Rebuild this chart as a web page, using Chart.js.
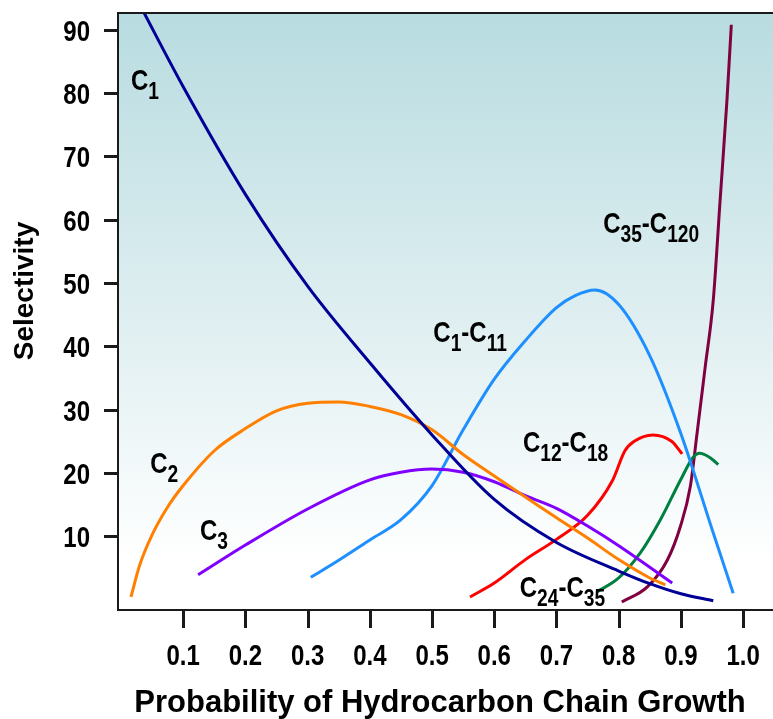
<!DOCTYPE html>
<html>
<head>
<meta charset="utf-8">
<script src="https://cdn.jsdelivr.net/npm/chart.js@4.4.0/dist/chart.umd.min.js"></script>
<style>
  html, body { margin: 0; padding: 0; background: #fff; }
  canvas { display: block; }
</style>
</head>
<body>
<canvas id="myChart" width="773" height="719"></canvas>
<script>
// tick labels
const xTicks = [0.1, 0.2, 0.3, 0.4, 0.5, 0.6, 0.7, 0.8, 0.9, 1.0];
const yTicks = [10, 20, 30, 40, 50, 60, 70, 80, 90];

// curves (x = chain growth probability, y = selectivity %)
const c1X = [0.03, 0.1, 0.2, 0.3, 0.4, 0.5, 0.6, 0.7, 0.8, 0.85, 0.9, 0.952];
const c1Y = [94, 81, 64, 49.5, 37.4, 26, 15.8, 9, 4.5, 2.5, 0.9, -0.2];

const c2X = [0.016, 0.03, 0.05, 0.075, 0.1, 0.15, 0.2, 0.25, 0.3, 0.35, 0.4, 0.45, 0.5, 0.55, 0.6, 0.65, 0.7, 0.75, 0.8, 0.85, 0.875];
const c2Y = [0.4, 5.4, 10.2, 14.6, 18, 23.5, 27, 29.8, 31, 31.2, 30.5, 29.2, 26.8, 22.9, 19.5, 16.2, 12.9, 9.7, 6.3, 3.4, 2.3];

const c3X = [0.124, 0.2, 0.3, 0.4, 0.45, 0.5, 0.55, 0.6, 0.65, 0.7, 0.75, 0.8, 0.886];
const c3Y = [3.9, 8.6, 14.3, 18.9, 20.1, 20.6, 20.1, 18.6, 16.4, 14.4, 11.6, 8.5, 2.6];

const c1c11X = [0.305, 0.35, 0.4, 0.45, 0.5, 0.55, 0.6, 0.65, 0.7, 0.73, 0.762, 0.8, 0.85, 0.9, 0.95, 0.984];
const c1c11Y = [3.5, 6.2, 9.4, 12.6, 18, 26.8, 34.8, 40.9, 46.1, 48, 48.9, 46.6, 38.5, 26.2, 11.1, 1.0];

const c12c18X = [0.561, 0.6, 0.65, 0.7, 0.75, 0.79, 0.81, 0.825, 0.855, 0.885, 0.902];
const c12c18Y = [0.4, 2.6, 6.3, 9.5, 13.3, 18.8, 23.5, 25, 26, 25, 23];

const c24c35X = [0.765, 0.8, 0.835, 0.867, 0.9, 0.92, 0.93, 0.947, 0.96];
const c24c35Y = [1.2, 3.4, 7.4, 12.6, 19, 22.5, 23.1, 22.4, 21.3];

const c35c120X = [0.805, 0.846, 0.878, 0.899, 0.915, 0.926, 0.939, 0.952, 0.963, 0.974, 0.981];
const c35c120Y = [-0.4, 2, 6.2, 11.5, 17.8, 26.3, 36.7, 47.3, 63.1, 78.9, 90.8];

const WIDE = '"Liberation Sans", Arial, sans-serif';
const SQUEEZE = 0.8; // fake a narrow bold face, none is installed

// curve names, drawn in the plot as C + subscript
const curveLabels = [
  { x: 0.016, y: 80.5, parts: [["C", "1"]] },
  { x: 0.047, y: 20.0, parts: [["C", "2"]] },
  { x: 0.127, y: 9.4, parts: [["C", "3"]] },
  { x: 0.502, y: 40.7, parts: [["C", "1"], ["-C", "11"]] },
  { x: 0.646, y: 23.3, parts: [["C", "12"], ["-C", "18"]] },
  { x: 0.641, y: 0.4, parts: [["C", "24"], ["-C", "35"]] },
  { x: 0.775, y: 57.9, parts: [["C", "35"], ["-C", "120"]] }
];

function pts(xs, ys) {
  return xs.map((x, i) => ({ x: x, y: ys[i] }));
}

function line(data, color) {
  return {
    data: data,
    borderColor: color,
    borderWidth: 3,
    pointRadius: 0,
    fill: false,
    cubicInterpolationMode: "monotone",
    clip: 0
  };
}

function narrowText(ctx, text, x, y, align) {
  ctx.save();
  ctx.translate(x, y);
  ctx.scale(SQUEEZE, 1);
  ctx.textAlign = align;
  ctx.fillText(text, 0, 0);
  ctx.restore();
}

const backdrop = {
  id: "backdrop",
  beforeDraw(chart) {
    const { ctx, chartArea: a } = chart;
    const g = ctx.createLinearGradient(0, a.top, 0, a.bottom);
    g.addColorStop(0, "#b8dce0");
    g.addColorStop(0.55, "#e2f0f2");
    g.addColorStop(0.92, "#ffffff");
    ctx.save();
    ctx.fillStyle = g;
    ctx.fillRect(a.left, a.top, a.right - a.left, a.bottom - a.top);
    ctx.restore();
  },
  afterDraw(chart) {
    const { ctx, chartArea: a, scales } = chart;
    ctx.save();
    ctx.fillStyle = "#1a1a1a";
    // top edge of the frame
    ctx.fillRect(a.left - 1, a.top - 1, a.right - a.left + 1, 2);
    // tick marks outside the frame
    scales.x.ticks.forEach(t => {
      const px = Math.round(scales.x.getPixelForValue(t.value));
      ctx.fillRect(px - 1, a.bottom, 3, 18);
    });
    scales.y.ticks.forEach(t => {
      const py = Math.round(scales.y.getPixelForValue(t.value));
      ctx.fillRect(a.left - 14, py - 1, 14, 3);
    });

    // tick labels, placed by the scales
    ctx.fillStyle = "#000";
    ctx.textBaseline = "alphabetic";
    ctx.font = "bold 30px " + WIDE;
    scales.x.ticks.forEach(t => {
      narrowText(ctx, t.label, scales.x.getPixelForValue(t.value), a.bottom + 55, "center");
    });
    scales.y.ticks.forEach(t => {
      narrowText(ctx, t.label, a.left - 28, scales.y.getPixelForValue(t.value) + 11, "right");
    });

    // axis titles
    ctx.font = "bold 31px " + WIDE;
    ctx.textAlign = "center";
    ctx.fillText("Probability of Hydrocarbon Chain Growth", 440, 712);
    ctx.translate(33, 291);
    ctx.rotate(-Math.PI / 2);
    ctx.font = "bold 28px " + WIDE;
    ctx.fillText("Selectivity", 0, 0);
    ctx.restore();
  }
};

const curveNames = {
  id: "curveNames",
  afterDatasetsDraw(chart) {
    const { ctx, scales } = chart;
    ctx.save();
    ctx.fillStyle = "#000";
    ctx.textBaseline = "alphabetic";
    curveLabels.forEach(l => {
      let px = scales.x.getPixelForValue(l.x);
      const py = scales.y.getPixelForValue(l.y);
      l.parts.forEach(([main, sub]) => {
        ctx.font = "bold 30px " + WIDE;
        narrowText(ctx, main, px, py, "left");
        px += ctx.measureText(main).width * SQUEEZE;
        ctx.font = "bold 24px " + WIDE;
        narrowText(ctx, sub, px, py + 9, "left");
        px += ctx.measureText(sub).width * SQUEEZE;
      });
    });
    ctx.restore();
  }
};

function noPad(s) {
  s.paddingTop = 0;
  s.paddingBottom = 0;
  s.paddingLeft = 0;
  s.paddingRight = 0;
}

new Chart(document.getElementById("myChart"), {
  type: "line",
  data: {
    datasets: [
      line(pts(c1X, c1Y), "#000096"),
      line(pts(c2X, c2Y), "#ff8000"),
      line(pts(c3X, c3Y), "#8000ff"),
      line(pts(c1c11X, c1c11Y), "#1e8fff"),
      line(pts(c12c18X, c12c18Y), "#ff0000"),
      line(pts(c24c35X, c24c35Y), "#008040"),
      line(pts(c35c120X, c35c120Y), "#800040")
    ]
  },
  options: {
    responsive: false,
    devicePixelRatio: 1,
    animation: false,
    layout: { padding: { top: 13, right: 0, left: 0, bottom: 0 } },
    plugins: { legend: { display: false }, tooltip: { enabled: false } },
    scales: {
      x: {
        type: "linear",
        min: -0.0048,
        max: 1.048,
        afterBuildTicks: s => { s.ticks = xTicks.map(v => ({ value: v })); },
        afterFit: s => { s.height = 109; noPad(s); },
        border: { display: true, color: "#1a1a1a", width: 2 },
        grid: { drawOnChartArea: false, drawTicks: false },
        ticks: {
          color: "rgba(0,0,0,0)",
          maxRotation: 0,
          font: { size: 20 },
          callback: v => v.toFixed(1)
        }
      },
      y: {
        type: "linear",
        min: -1.66,
        max: 92.65,
        afterBuildTicks: s => { s.ticks = yTicks.map(v => ({ value: v })); },
        afterFit: s => { s.width = 118; noPad(s); },
        border: { display: true, color: "#1a1a1a", width: 2 },
        grid: { drawOnChartArea: false, drawTicks: false },
        ticks: {
          color: "rgba(0,0,0,0)",
          font: { size: 20 },
          callback: v => String(v)
        }
      }
    }
  },
  plugins: [backdrop, curveNames]
});
</script>
</body>
</html>
